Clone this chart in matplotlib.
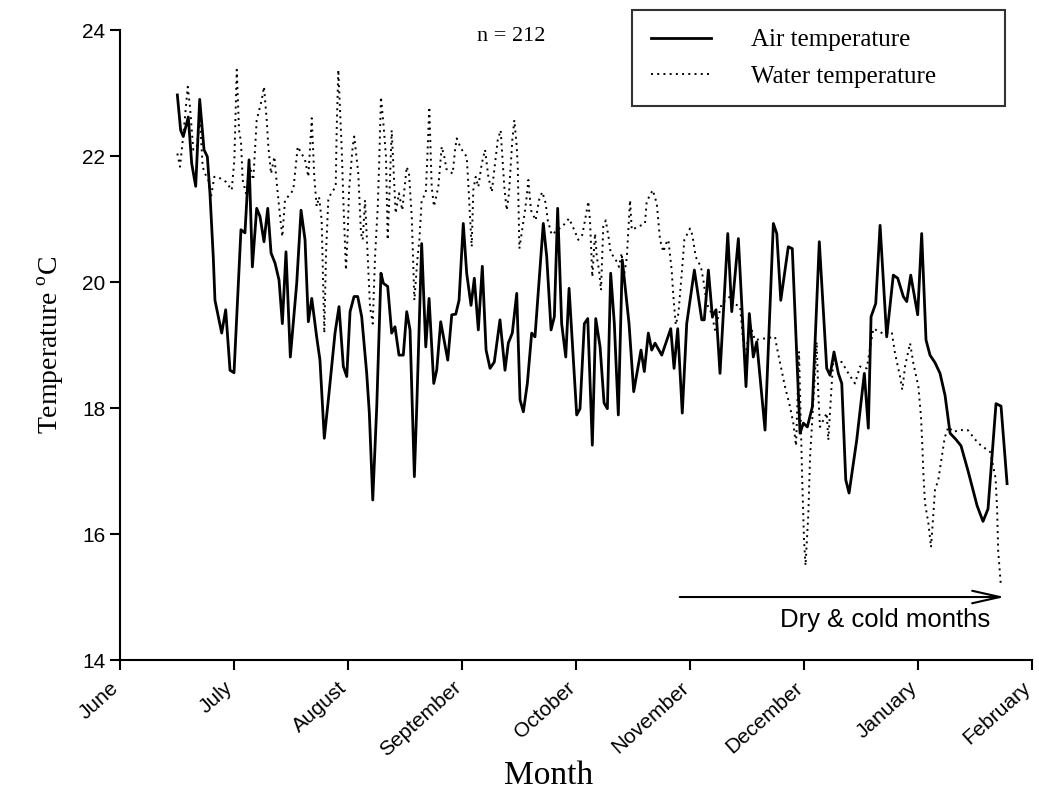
import matplotlib
matplotlib.use("Agg")
import matplotlib.pyplot as plt

# month axis: 0 = start of June, 8 = start of February
months = ["June", "July", "August", "September", "October",
          "November", "December", "January", "February"]

# air temperature (month position, degC)
air_x = [0.503, 0.532, 0.555, 0.599, 0.629, 0.664, 0.699, 0.737, 0.766, 0.789,
         0.818, 0.833, 0.892, 0.927, 0.965, 1.000, 1.061, 1.096, 1.132, 1.161,
         1.199, 1.228, 1.263, 1.296, 1.325, 1.360, 1.395, 1.424, 1.456, 1.494,
         1.550, 1.588, 1.623, 1.652, 1.682, 1.725, 1.754, 1.792, 1.833, 1.886,
         1.921, 1.959, 1.989, 2.018, 2.053, 2.085, 2.120, 2.164, 2.187, 2.217,
         2.252, 2.289, 2.310, 2.348, 2.383, 2.412, 2.447, 2.485, 2.515, 2.544,
         2.582, 2.603, 2.646, 2.682, 2.711, 2.752, 2.778, 2.813, 2.875, 2.910,
         2.945, 2.974, 3.011, 3.041, 3.079, 3.108, 3.143, 3.178, 3.211, 3.246,
         3.283, 3.333, 3.377, 3.406, 3.441, 3.480, 3.509, 3.538, 3.573, 3.611,
         3.640, 3.713, 3.743, 3.781, 3.810, 3.839, 3.874, 3.910, 3.939, 4.006,
         4.035, 4.073, 4.103, 4.143, 4.173, 4.211, 4.246, 4.275, 4.304, 4.336,
         4.371, 4.406, 4.465, 4.506, 4.570, 4.599, 4.634, 4.664, 4.693, 4.752,
         4.831, 4.860, 4.892, 4.932, 4.971, 5.038, 5.103, 5.125, 5.161, 5.196,
         5.228, 5.263, 5.331, 5.366, 5.424, 5.491, 5.520, 5.555, 5.585, 5.658,
         5.731, 5.761, 5.796, 5.862, 5.897, 5.965, 5.994, 6.029, 6.073, 6.134,
         6.199, 6.228, 6.263, 6.301, 6.331, 6.366, 6.395, 6.462, 6.529, 6.564,
         6.588, 6.629, 6.667, 6.725, 6.783, 6.822, 6.871, 6.901, 6.936, 6.997,
         7.032, 7.070, 7.105, 7.149, 7.193, 7.237, 7.281, 7.333, 7.377, 7.439,
         7.518, 7.570, 7.614, 7.684, 7.728, 7.781]
air_t = [22.97, 22.41, 22.31, 22.62, 21.88, 21.52, 22.90, 22.10, 21.99, 21.41,
         20.40, 19.71, 19.19, 19.56, 18.60, 18.56, 20.83, 20.78, 21.94, 20.24,
         21.17, 21.04, 20.64, 21.17, 20.46, 20.30, 20.03, 19.34, 20.48, 18.81,
         19.98, 21.14, 20.67, 19.37, 19.74, 19.13, 18.76, 17.52, 18.23, 19.19,
         19.61, 18.66, 18.50, 19.53, 19.77, 19.77, 19.45, 18.55, 17.92, 16.54,
         18.02, 20.14, 19.98, 19.93, 19.19, 19.29, 18.84, 18.84, 19.53, 19.24,
         16.91, 18.02, 20.61, 18.97, 19.74, 18.39, 18.60, 19.37, 18.76, 19.48,
         19.49, 19.71, 20.93, 20.14, 19.63, 20.06, 19.24, 20.25, 18.92, 18.63,
         18.73, 19.40, 18.60, 19.03, 19.19, 19.82, 18.13, 17.94, 18.39, 19.19,
         19.13, 20.93, 20.40, 19.24, 19.45, 21.17, 19.34, 18.81, 19.90, 17.89,
         17.99, 19.34, 19.42, 17.41, 19.42, 18.97, 18.08, 17.99, 20.14, 19.34,
         17.89, 20.35, 19.34, 18.26, 18.92, 18.58, 19.19, 18.92, 19.03, 18.84,
         19.26, 18.63, 19.26, 17.92, 19.34, 20.19, 19.40, 19.40, 20.19, 19.45,
         19.56, 18.55, 20.77, 19.53, 20.69, 18.34, 19.50, 18.81, 19.05, 17.65,
         20.93, 20.77, 19.71, 20.56, 20.53, 17.60, 17.76, 17.70, 18.02, 20.64,
         18.63, 18.52, 18.89, 18.55, 18.39, 16.86, 16.65, 17.49, 18.55, 17.68,
         19.45, 19.66, 20.90, 19.13, 20.11, 20.06, 19.77, 19.69, 20.11, 19.48,
         20.77, 19.08, 18.84, 18.72, 18.55, 18.20, 17.60, 17.50, 17.40, 17.00,
         16.45, 16.20, 16.40, 18.07, 18.03, 16.80]

# water temperature (month position, degC)
water_x = [0.503, 0.526, 0.546, 0.570, 0.594, 0.614, 0.643, 0.673, 0.702, 0.725,
           0.746, 0.775, 0.798, 0.827, 0.857, 0.930, 0.980, 1.003, 1.024, 1.044,
           1.061, 1.076, 1.105, 1.140, 1.169, 1.199, 1.243, 1.263, 1.287, 1.301,
           1.325, 1.354, 1.375, 1.404, 1.424, 1.447, 1.471, 1.520, 1.541, 1.559,
           1.623, 1.652, 1.682, 1.704, 1.725, 1.746, 1.769, 1.792, 1.807, 1.827,
           1.851, 1.892, 1.901, 1.915, 1.945, 1.959, 1.982, 1.997, 2.009, 2.041,
           2.055, 2.090, 2.114, 2.129, 2.149, 2.173, 2.193, 2.217, 2.237, 2.261,
           2.275, 2.289, 2.313, 2.333, 2.348, 2.368, 2.383, 2.418, 2.447, 2.476,
           2.515, 2.535, 2.559, 2.582, 2.608, 2.626, 2.646, 2.682, 2.696, 2.713,
           2.734, 2.754, 2.792, 2.822, 2.851, 2.860, 2.918, 2.939, 2.954, 2.991,
           3.041, 3.055, 3.070, 3.085, 3.099, 3.120, 3.143, 3.173, 3.202, 3.231,
           3.261, 3.283, 3.313, 3.339, 3.354, 3.371, 3.392, 3.412, 3.421, 3.441,
           3.459, 3.480, 3.489, 3.503, 3.553, 3.567, 3.582, 3.605, 3.646, 3.675,
           3.704, 3.734, 3.752, 3.787, 3.889, 3.939, 3.991, 4.020, 4.055, 4.079,
           4.108, 4.123, 4.143, 4.167, 4.182, 4.202, 4.219, 4.239, 4.261, 4.289,
           4.304, 4.342, 4.377, 4.401, 4.415, 4.445, 4.474, 4.489, 4.605, 4.620,
           4.673, 4.708, 4.737, 4.766, 4.789, 4.810, 4.839, 4.854, 4.875, 4.898,
           4.932, 4.950, 5.000, 5.020, 5.050, 5.096, 5.117, 5.146, 5.190, 5.219,
           5.278, 5.351, 5.380, 5.439, 5.482, 5.526, 5.570, 5.746, 5.761, 5.833,
           5.877, 5.906, 5.930, 5.956, 5.974, 5.985, 6.000, 6.013, 6.038, 6.053,
           6.067, 6.096, 6.111, 6.125, 6.140, 6.199, 6.213, 6.243, 6.257, 6.331,
           6.389, 6.447, 6.491, 6.550, 6.608, 6.696, 6.769, 6.798, 6.842, 6.862,
           6.886, 6.930, 6.959, 7.003, 7.026, 7.038, 7.047, 7.061, 7.091, 7.114,
           7.149, 7.178, 7.206, 7.234, 7.266, 7.312, 7.358, 7.436, 7.528, 7.634,
           7.680, 7.693, 7.703, 7.726]
water_t = [22.04, 21.83, 22.17, 22.62, 23.10, 22.78, 22.10, 22.15, 22.57, 21.83,
           21.72, 21.62, 21.35, 21.67, 21.67, 21.59, 21.46, 21.94, 23.37, 22.41,
           22.23, 21.62, 21.41, 21.83, 21.62, 22.57, 22.89, 23.10, 22.57, 22.15,
           21.72, 21.99, 21.57, 21.04, 20.72, 21.30, 21.35, 21.46, 21.83, 22.15,
           21.94, 21.67, 22.60, 21.67, 21.20, 21.35, 20.98, 19.19, 20.46, 21.30,
           21.41, 21.51, 22.44, 23.37, 22.10, 21.30, 20.19, 20.77, 21.46, 22.15,
           22.31, 21.72, 20.77, 20.67, 21.30, 20.40, 19.61, 19.34, 20.40, 21.20,
           21.99, 22.94, 22.46, 21.99, 20.67, 21.62, 22.41, 21.09, 21.41, 21.14,
           21.83, 21.72, 21.04, 19.71, 20.35, 20.67, 21.30, 21.41, 21.99, 22.78,
           21.51, 21.20, 21.51, 22.15, 21.94, 21.80, 21.72, 22.10, 22.28, 22.12,
           21.99, 21.57, 21.04, 20.56, 21.46, 21.67, 21.51, 21.88, 22.10, 21.67,
           21.43, 21.78, 22.25, 22.41, 21.99, 21.51, 21.14, 21.41, 21.67, 22.25,
           22.57, 22.15, 21.83, 20.53, 21.14, 21.35, 21.62, 21.14, 20.98, 21.30,
           21.43, 21.25, 20.98, 20.75, 20.90, 21.01, 20.80, 20.67, 20.75, 20.98,
           21.28, 20.96, 20.08, 20.77, 20.40, 20.19, 19.87, 20.88, 20.98, 20.67,
           20.46, 20.38, 20.24, 20.46, 20.03, 20.38, 21.30, 20.83, 20.93, 21.28,
           21.46, 21.25, 20.67, 20.48, 20.61, 20.67, 20.19, 19.77, 19.32, 19.50,
           20.24, 20.67, 20.85, 20.75, 20.40, 20.24, 20.03, 19.66, 19.50, 19.24,
           19.66, 19.77, 19.66, 19.61, 18.76, 19.32, 19.08, 19.13, 18.97, 18.34,
           18.02, 17.76, 17.40, 18.90, 17.60, 16.80, 15.90, 15.50, 16.33, 17.23,
           17.65, 18.55, 19.05, 18.23, 17.70, 17.92, 17.49, 18.39, 18.76, 18.73,
           18.55, 18.39, 18.66, 18.63, 19.26, 19.18, 19.21, 18.87, 18.50, 18.29,
           18.66, 19.03, 18.71, 18.34, 17.86, 17.39, 16.96, 16.49, 16.17, 15.79,
           16.70, 16.86, 17.20, 17.53, 17.70, 17.62, 17.65, 17.65, 17.44, 17.30,
           16.89, 16.43, 15.73, 15.20]

serif = "Liberation Serif"
sans = "Liberation Sans"
plt.rcParams["mathtext.fontset"] = "custom"
plt.rcParams["mathtext.rm"] = serif

fig = plt.figure(figsize=(10.39, 7.91), dpi=100)
ax = fig.add_axes([0.1155, 0.1656, 0.8778, 0.7964])

ax.plot(air_x, air_t, color="black", lw=2.0, label="Air temperature")
ax.plot(water_x, water_t, color="black", lw=1.4, linestyle=(0, (1, 2.2)),
        label="Water temperature")

ax.set_xlim(0, 8)
ax.set_ylim(14, 24)
ax.set_xticks(range(len(months)))
ax.set_xticklabels(months, rotation=42, ha="right", va="baseline",
                   rotation_mode="anchor", fontfamily=sans, fontsize=15)
ax.set_yticks([14, 16, 18, 20, 22, 24])
for lab in ax.get_yticklabels():
    lab.set_fontfamily(sans)
    lab.set_fontsize(15)

for s in ["top", "right"]:
    ax.spines[s].set_visible(False)
for s in ["left", "bottom"]:
    ax.spines[s].set_linewidth(1.5)
ax.tick_params(direction="out", length=7, width=1.5, color="black")
ax.tick_params(axis="x", pad=14)

fig.text(549 / 1039, 1 - 776 / 791, "Month", fontfamily=serif, fontsize=24,
         ha="center", va="center")
ax.set_ylabel("Temperature $^{\\mathrm{o}}$C", fontfamily=serif, fontsize=20,
              labelpad=12)

ax.text(3.43, 23.89, "n = 212", fontfamily=serif, fontsize=16,
        ha="center", va="center")

leg = ax.legend(loc="upper left", mode="expand",
                bbox_to_anchor=(632 / 1039, 1 - 107 / 791, 373 / 1039, 97 / 791),
                bbox_transform=fig.transFigure, borderaxespad=0,
                frameon=True, fancybox=False, handlelength=2.4,
                handletextpad=1.6, prop={"family": serif, "size": 18},
                borderpad=0.75, labelspacing=0.55)
leg.get_frame().set_edgecolor("black")
leg.get_frame().set_linewidth(1.5)

ax.annotate("", xy=(7.76, 15.0), xytext=(4.91, 15.0),
            arrowprops=dict(arrowstyle="->,head_length=2.0,head_width=0.45",
                            color="black", lw=1.5, shrinkA=0, shrinkB=0))
ax.text(7.63, 14.63, "Dry & cold months", fontfamily=sans, fontsize=18.5,
        ha="right", va="center")

fig.savefig("out.png", dpi=100)
